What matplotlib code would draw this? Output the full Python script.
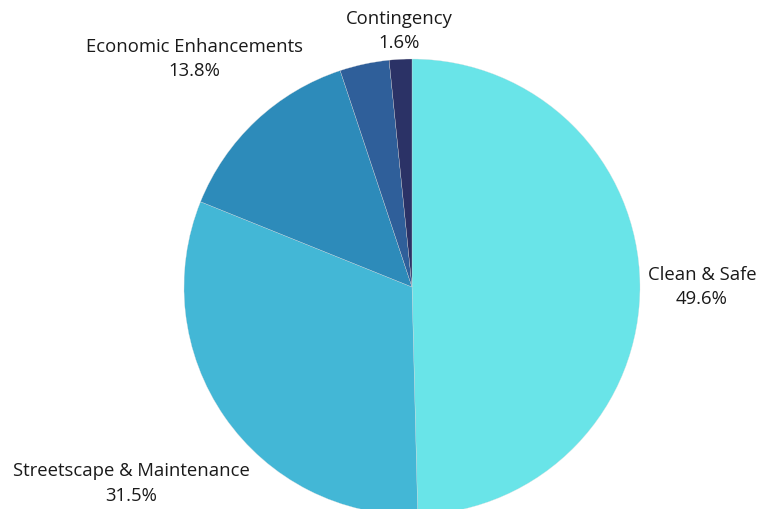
import matplotlib.pyplot as plt

# budget shares (%)
categories = ['Clean & Safe', 'Streetscape & Maintenance', 'Economic Enhancements', '', 'Contingency']
shares = [49.6, 31.5, 13.8, 3.5, 1.6]
colors = ['#69e4e8', '#43b7d6', '#2d8bba', '#2f5f9a', '#2b3266']

# label anchor points in figure pixels (x from left, y from top)
label_pos = {
    'Clean & Safe': (702, 287),
    'Streetscape & Maintenance': (131, 484),
    'Economic Enhancements': (194, 59),
    'Contingency': (399, 31),
}

plt.rcParams['font.family'] = ['Open Sans', 'DejaVu Sans']

W, H = 769, 510
fig = plt.figure(figsize=(W / 100, H / 100), dpi=100)
cx, cy, r = 412, 288, 228
ax = fig.add_axes([(cx - r) / W, (H - cy - r) / H, 2 * r / W, 2 * r / H])
ax.pie(shares, colors=colors, startangle=90, counterclock=False, radius=1,
       wedgeprops=dict(edgecolor='#dddddd', linewidth=0.2))
ax.set_xlim(-1, 1)
ax.set_ylim(-1, 1)
ax.set_aspect('equal')
ax.axis('off')

for name, val in zip(categories, shares):
    if name not in label_pos:
        continue
    x, y = label_pos[name]
    fig.text(x / W, 1 - y / H, f'{name}\n{val}%', ha='center', va='center',
             fontsize=13.3, color='#1a1a1a', linespacing=1.5)

fig.savefig('out.png', dpi=100)
